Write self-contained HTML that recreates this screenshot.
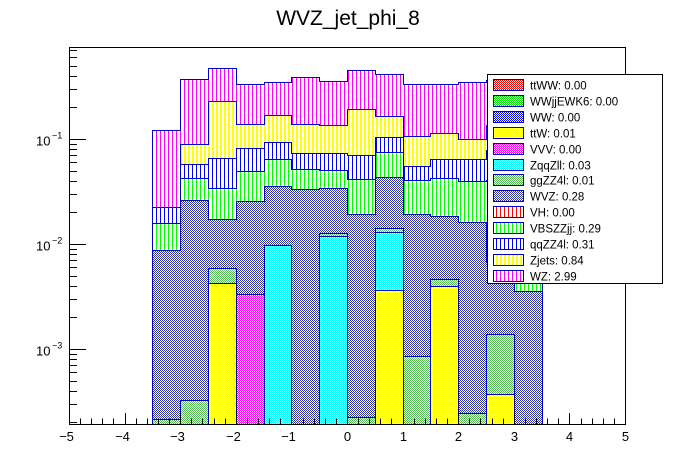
<!DOCTYPE html>
<html><head><meta charset="utf-8"><style>
body{margin:0;background:#fff;font-family:"Liberation Sans",sans-serif}
svg{display:block}
</style></head><body>
<svg id="c" width="696" height="472" xmlns="http://www.w3.org/2000/svg" shape-rendering="crispEdges">
<defs>
<pattern id="chk-red" width="2" height="2" patternUnits="userSpaceOnUse"><rect width="2" height="2" fill="#fff"/><rect width="1" height="1" fill="#f00"/><rect x="1" y="1" width="1" height="1" fill="#f00"/></pattern>
<pattern id="chk-green" width="2" height="2" patternUnits="userSpaceOnUse"><rect width="2" height="2" fill="#fff"/><rect width="1" height="1" fill="#0d0"/><rect x="1" y="1" width="1" height="1" fill="#0d0"/></pattern>
<pattern id="chk-blue" width="2" height="2" patternUnits="userSpaceOnUse"><rect width="2" height="2" fill="#fff"/><rect width="1" height="1" fill="#00f"/><rect x="1" y="1" width="1" height="1" fill="#00f"/></pattern>
<pattern id="chk-yellow" width="2" height="2" patternUnits="userSpaceOnUse"><rect width="2" height="2" fill="#fff"/><rect width="1" height="1" fill="#ff0"/><rect x="1" y="1" width="1" height="1" fill="#ff0"/></pattern>
<pattern id="chk-magenta" width="2" height="2" patternUnits="userSpaceOnUse"><rect width="2" height="2" fill="#fff"/><rect width="1" height="1" fill="#f0f"/><rect x="1" y="1" width="1" height="1" fill="#f0f"/></pattern>
<pattern id="chk-cyan" width="2" height="2" patternUnits="userSpaceOnUse"><rect width="2" height="2" fill="#fff"/><rect width="1" height="1" fill="#0ff"/><rect x="1" y="1" width="1" height="1" fill="#0ff"/></pattern>
<pattern id="chk-ggzz" width="2" height="2" patternUnits="userSpaceOnUse"><rect width="2" height="2" fill="#fff"/><rect width="1" height="1" fill="#5b5"/><rect x="1" y="1" width="1" height="1" fill="#5b5"/></pattern>
<pattern id="chk-wvz" width="2" height="2" patternUnits="userSpaceOnUse"><rect width="2" height="2" fill="#fff"/><rect width="1" height="1" fill="#33a"/><rect x="1" y="1" width="1" height="1" fill="#33a"/></pattern>
<pattern id="str-red" width="4" height="4" patternUnits="userSpaceOnUse"><rect width="4" height="4" fill="#fff"/><rect width="1" height="4" fill="#f00"/></pattern>
<pattern id="str-green" width="4" height="4" patternUnits="userSpaceOnUse"><rect width="4" height="4" fill="#fff"/><rect width="1" height="4" fill="#0f0"/></pattern>
<pattern id="str-blue" width="4" height="4" patternUnits="userSpaceOnUse"><rect width="4" height="4" fill="#fff"/><rect width="1" height="4" fill="#00f"/></pattern>
<pattern id="str-yellow" width="4" height="4" patternUnits="userSpaceOnUse"><rect width="4" height="4" fill="#fff"/><rect width="2" height="4" fill="#ff0"/></pattern>
<pattern id="str-magenta" width="4" height="4" patternUnits="userSpaceOnUse"><rect width="4" height="4" fill="#fff"/><rect width="1" height="4" fill="#f0f"/></pattern>
<clipPath id="fr"><rect x="69" y="47" width="556" height="377"/></clipPath>
</defs>
<text x="348" y="25" text-anchor="middle" font-size="21">WVZ_jet_phi_8</text>
<g id="bars" clip-path="url(#fr)"></g>
<rect x="69.5" y="47.5" width="556" height="377" fill="none" stroke="#000" stroke-width="1"/>
<g id="axes"></g>
<g id="legend"></g>
</svg>
<script>
const binCenters=[-3.25,-2.75,-2.25,-1.75,-1.25,-0.75,-0.25,0.25,0.75,1.25,1.75,2.25,2.75,3.25];
const seriesNames=["ttWW","WWjjEWK6","WW","ttW","VVV","ZqqZll","ggZZ4l","WVZ","VH","VBSZZjj","qqZZ4l","Zjets","WZ"];
const legendValues=["0.00","0.00","0.00","0.01","0.00","0.03","0.01","0.28","0.00","0.29","0.31","0.84","2.99"];
const ttWW=[0,0,0,0,0,0,0,0,0,0,0,0,0,0];
const WWjjEWK6=[0,0,0,0,0,0,0,0,0,0,0,0,0,0];
const WW=[0,0,0,0,0,0,0,0,0,0,0,0,0,0];
const ttW=[0,0,0.00423,0,0,0,0,0,0.00362,0,0.00401,0,0.00037,0];
const VVV=[0,0,0,0.00332,0,0,0,0,0,0,0,0,0,0];
const ZqqZll=[0,0,0,0,0.00973,0,0.0118,0,0.00928,0,0,0,0,0];
const ggZZ4l=[0.000214,0.00033,0.00164,0,0,0,0.0010,0.000226,0.0012,0.000863,0.00067,0.000247,0.00103,0];
const WVZ=[0.00856,0.0258,0.0113,0.0222,0.0258,0.0332,0.0211,0.0190,0.0291,0.0183,0.0140,0.0159,0.00534,0.00356];
const VH=[0,0,0,0,0,0,0,0,0,0,0,0,0,0];
const VBSZZjj=[0.0072,0.0161,0.0167,0.0237,0.0286,0.0182,0.0164,0.0222,0.0315,0.0212,0.0235,0.0240,0.034,0.0175];
const qqZZ4l=[0.0064,0.0152,0.0316,0.0323,0.029,0.0217,0.0228,0.0286,0.0291,0.0146,0.0219,0.0240,0.038,0.0354];
const Zjets=[0,0.0317,0.1635,0.0565,0.075,0.0649,0.0619,0.122,0.060,0.051,0.0489,0.0364,0.057,0.0415];
const WZ=[0.0986,0.282,0.242,0.194,0.179,0.249,0.220,0.259,0.249,0.226,0.219,0.252,0.229,0.208];
const xTicks=[-5,-4,-3,-2,-1,0,1,2,3,4,5];
const yDecades=[-3,-2,-1];

const series=[ttWW,WWjjEWK6,WW,ttW,VVV,ZqqZll,ggZZ4l,WVZ,VH,VBSZZjj,qqZZ4l,Zjets,WZ];
const fills=["url(#chk-red)","url(#chk-green)","url(#chk-blue)","url(#chk-yellow)","url(#chk-magenta)","url(#chk-cyan)","url(#chk-ggzz)","url(#chk-wvz)","url(#str-red)","url(#str-green)","url(#str-blue)","url(#str-yellow)","url(#str-magenta)"];
const NS="http://www.w3.org/2000/svg";
const X0=69,X1=625,Y0=47,Y1=424;
const xMin=-5,xMax=5,binW=0.5;
const yTopLog=-1+(139-47)/105, yBotLog=-1-(424-139)/105;
function xs(v){return Math.round(X0+(v-xMin)/(xMax-xMin)*(X1-X0))+0.5;}
function ys(v){const l=Math.log10(Math.max(v,1e-9));return Math.min(Y1+10,Math.round(Y0+(yTopLog-l)/(yTopLog-yBotLog)*(Y1-Y0))+0.5);}
function el(t,a,p){const e=document.createElementNS(NS,t);for(const k in a)e.setAttribute(k,a[k]);p.appendChild(e);return e;}

const bars=document.getElementById('bars');
const cum=binCenters.map(()=>[]);
binCenters.forEach((c,i)=>{let s=0;series.forEach((arr,j)=>{s+=arr[i];cum[i][j]=s;});});
const base=Y1+10;
for(let j=series.length-1;j>=0;j--){
  if(!series[j].some(v=>v>0))continue;
  let d="M"+xs(binCenters[0]-binW/2)+","+base;
  binCenters.forEach((c,i)=>{
    const y=cum[i][j]>0?ys(cum[i][j]):base;
    d+=" L"+xs(c-binW/2)+","+y+" L"+xs(c+binW/2)+","+y;
  });
  d+=" L"+xs(binCenters[binCenters.length-1]+binW/2)+","+base+" Z";
  const p=el('path',{d:d,fill:fills[j],stroke:"#0000cc","stroke-width":1},bars);
  
  
}

const ax=document.getElementById('axes');
for(let k=0;k<=50;k++){
  const v=xMin+k*0.2;const x=xs(v);const major=k%5===0;
  const t=el('line',{x1:x,x2:x,y1:Y1,y2:Y1-(major?11:5.5),stroke:"#000","stroke-width":1},ax);
  
  
}
xTicks.forEach(v=>{
  const t=el('text',{x:xs(v)-(v<0?3:0),y:441,"text-anchor":"middle","font-size":13},ax);
  t.textContent=(v<0?"\u2212"+(-v):String(v));
  
  
});
for(let d=-4;d<=0;d++){
  for(let m=1;m<=9;m++){
    const v=m*Math.pow(10,d);const y=ys(v);
    if(y<Y0||y>Y1)continue;
    const t=el('line',{x1:X0,x2:X0+(m===1?17:8),y1:y,y2:y,stroke:"#000","stroke-width":1},ax);
    
    
  }
}
yDecades.forEach(d=>{
  const y=ys(Math.pow(10,d));
  const t=el('text',{x:36,y:y+6,"font-size":13},ax);
  t.textContent="10";
  
  
  const s=el('text',{x:52,y:y-1,"font-size":9},ax);
  s.textContent="\u2212"+(-d);
  
  
});

const lg=document.getElementById('legend');
const box=el('rect',{x:487.5,y:74.5,width:175,height:209,fill:"#fff",stroke:"#000","stroke-width":1},lg);


seriesNames.forEach((n,j)=>{
  const y=Math.round(79+j*15.9);
  const sw=el('rect',{x:493.5,y:y+0.5,width:30,height:11,fill:fills[j],stroke:"#0000cc","stroke-width":1},lg);
  
  
  const t=el('text',{x:530,y:y+10.5,"font-size":11.5},lg);
  t.textContent=n+": "+legendValues[j];
  
  
});
</script>
</body></html>
